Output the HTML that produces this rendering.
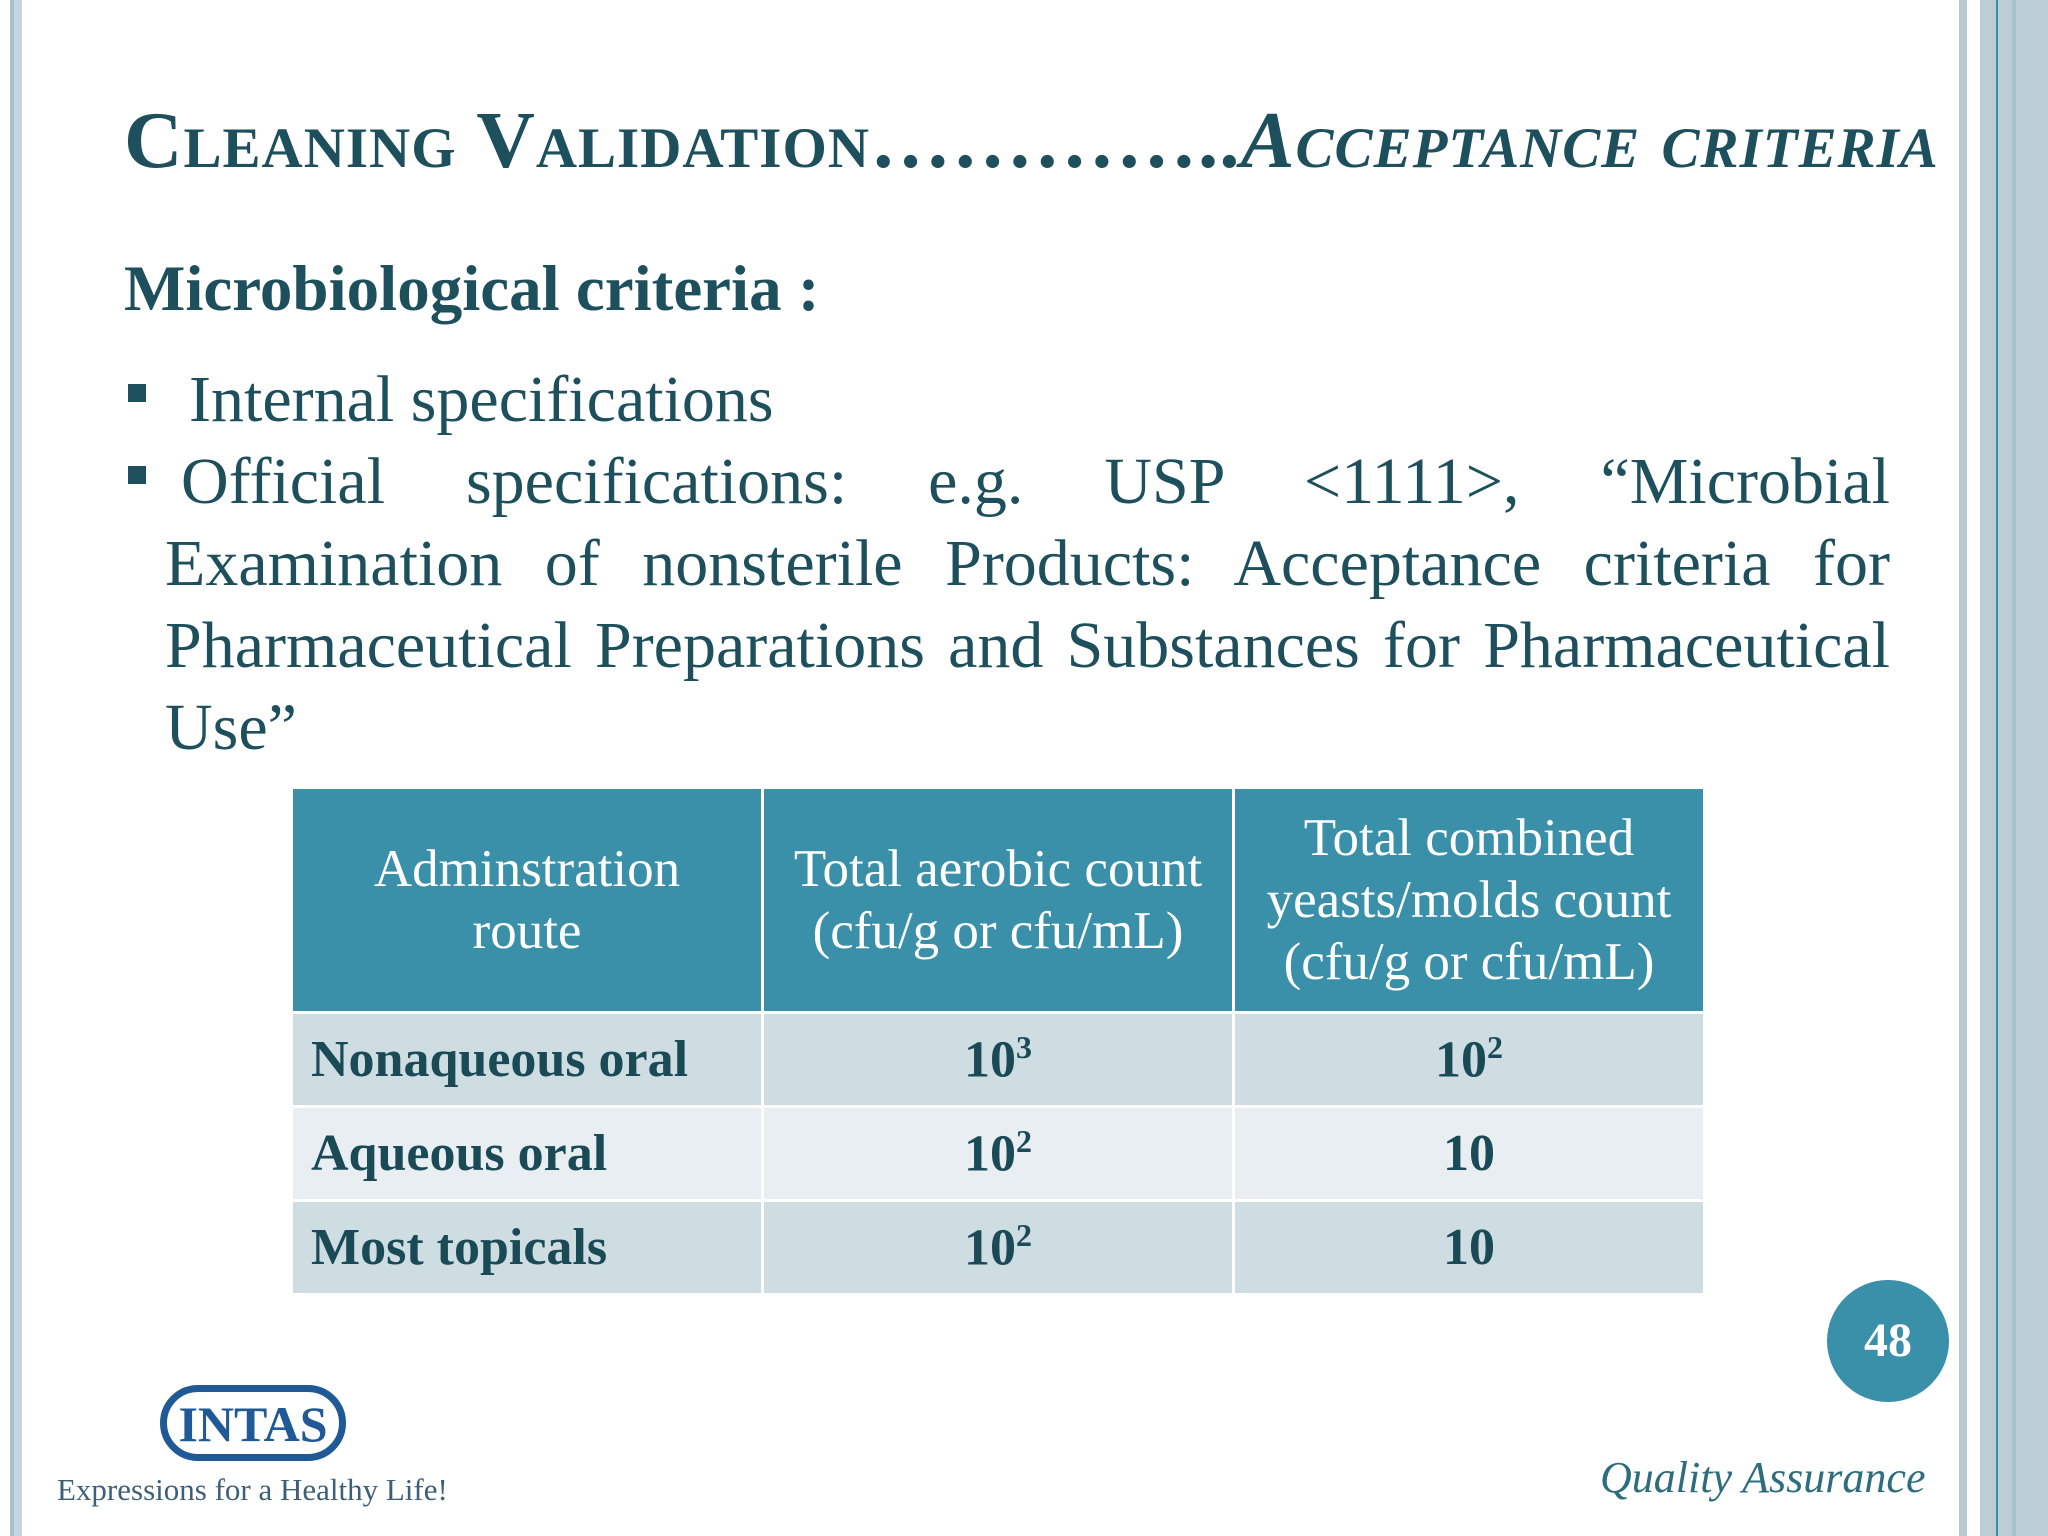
<!DOCTYPE html>
<html><head><meta charset="utf-8"><style>
body{margin:0;width:2048px;height:1536px;position:relative;overflow:hidden;background:#fff;font-family:"Liberation Serif",serif;}
.a{position:absolute;white-space:nowrap}
.c{color:#1d4f5c}
.j{position:absolute;left:165px;width:1725px;font-size:66px;text-align:justify;text-align-last:justify;white-space:nowrap;color:#1d4f5c}
table{position:absolute;left:290px;top:786px;border-collapse:collapse;table-layout:fixed;width:1416px}
td,th{border:3px solid #fff;padding:0;}
th{background:#3a8fa9;color:#fff;font-weight:normal;font-size:53px;line-height:62px;height:222px;text-align:center}
td{font-size:52px;font-weight:bold;color:#1b4a57;height:91px;text-align:center}
td.l{text-align:left;padding-left:18px}
tr.o td{background:#cddde1} tr.e td{background:#e8eef1}
sup{font-size:32px}
</style></head><body>
<div class="a" style="left:10px;top:0;width:4px;height:1536px;background:#a9bfca"></div>
<div class="a" style="left:14px;top:0;width:8px;height:1536px;background:#c6d6de"></div>
<div class="a" style="left:1959px;top:0;width:8px;height:1536px;background:#b8c9d1"></div>
<div class="a" style="left:1980px;top:0;width:68px;height:1536px;background:#bccdd6"></div>
<div class="a" style="left:1996px;top:0;width:2px;height:1536px;background:#3f8fa3"></div>
<div class="a" style="left:2012px;top:0;width:4px;height:1536px;background:#a7c4cc"></div>

<div class="a c" style="left:124px;top:94px;font-size:81px;font-weight:bold;font-variant:small-caps;letter-spacing:1px">Cleaning Validation…………..<i>Acceptance criteria</i></div>
<div class="a c" style="left:124px;top:252px;font-size:65px;font-weight:bold">Microbiological criteria :</div>

<div class="a" style="left:128px;top:384px;width:18px;height:18px;background:#1d4f5c"></div>
<div class="a c" style="left:189px;top:362px;font-size:66px">Internal specifications</div>
<div class="a" style="left:128px;top:466px;width:18px;height:18px;background:#1d4f5c"></div>
<div>
<div class="j" style="top:444px;left:181px;width:1709px">Official specifications: e.g. USP &lt;1111&gt;, “Microbial</div>
<div class="j" style="top:526px">Examination of nonsterile Products: Acceptance criteria for</div>
<div class="j" style="top:608px">Pharmaceutical Preparations and Substances for Pharmaceutical</div>
<div class="a c" style="left:165px;top:690px;font-size:66px">Use”</div>
</div>

<table>
<tr><th>Adminstration<br>route</th><th>Total aerobic count<br>(cfu/g or cfu/mL)</th><th>Total combined<br>yeasts/molds count<br>(cfu/g or cfu/mL)</th></tr>
<tr class="o"><td class="l">Nonaqueous oral</td><td>10<sup>3</sup></td><td>10<sup>2</sup></td></tr>
<tr class="e"><td class="l">Aqueous oral</td><td>10<sup>2</sup></td><td>10</td></tr>
<tr class="o"><td class="l">Most topicals</td><td>10<sup>2</sup></td><td>10</td></tr>
</table>

<div class="a" style="left:1827px;top:1280px;width:122px;height:122px;border-radius:50%;background:#3a8fa9;color:#fff;font-size:48px;font-weight:bold;text-align:center;line-height:122px">48</div>
<div class="a" style="left:1600px;top:1452px;font-size:44px;font-style:italic;color:#2d6d7d">Quality Assurance</div>

<div class="a" style="left:160px;top:1385px;width:172px;height:62px;border:7px solid #1f5a97;border-radius:40px;color:#1f5a97;font-weight:bold;font-size:50px;text-align:center;line-height:64px">INTAS</div>
<div class="a" style="left:57px;top:1472px;font-size:31px;color:#3d5f78">Expressions for a Healthy Life!</div>
</body></html>
